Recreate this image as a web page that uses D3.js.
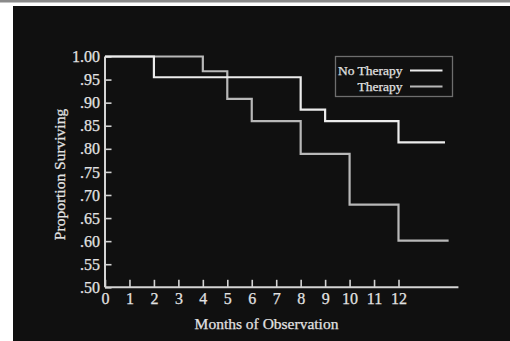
<!DOCTYPE html>
<html>
<head>
<meta charset="utf-8">
<script src="https://cdn.jsdelivr.net/npm/d3@7"></script>
<style>
  html, body { margin: 0; padding: 0; background: #fff; }
  svg { display: block; }
  text { stroke: #e2e2e2; stroke-width: 0.25px; }
</style>
</head>
<body>
<div id="chart"></div>
<script>
// survival steps: [month, proportion]
const noTherapy = [[0, 1.0], [2, 0.955], [8, 0.885], [9, 0.86], [12, 0.814], [13.9, 0.814]];
const therapy = [[0, 1.0], [4, 0.968], [5, 0.908], [6, 0.86], [8, 0.789], [10, 0.679], [12, 0.601], [14.05, 0.601]];
const monthTicks = [0, 1, 2, 3, 4, 5, 6, 7, 8, 9, 10, 11, 12];
const propTicks = [0.5, 0.55, 0.6, 0.65, 0.7, 0.75, 0.8, 0.85, 0.9, 0.95, 1.0];
const legendItems = ['No Therapy', 'Therapy'];

const width = 510, height = 341;
const FONT = '"Liberation Serif", "DejaVu Serif", serif';

const svg = d3.select('#chart').append('svg')
  .attr('width', width)
  .attr('height', height);

// photo frame: gray rule on top, white margin, black plate
svg.append('rect').attr('width', width).attr('height', height).attr('fill', '#fff');
svg.append('rect').attr('x', 0).attr('y', 0).attr('width', width).attr('height', 2.5).attr('fill', '#8a8a8a');
svg.append('rect').attr('x', 13).attr('y', 6).attr('width', width - 13).attr('height', height - 6).attr('fill', '#101010');

const x = d3.scaleLinear().domain([0, 12]).range([105, 398.5]);
const y = d3.scaleLinear().domain([0.5, 1.0]).range([287.3, 56.5]);

const axisColor = '#d4d4d4';
const textColor = '#e2e2e2';

// x axis (ticks point inward / up)
const xAxis = svg.append('g')
  .attr('transform', `translate(0,${y(0.5)})`)
  .call(d3.axisBottom(x).tickValues(monthTicks).tickSize(-7.5).tickPadding(14).tickFormat(d3.format('d')));
xAxis.select('.domain').remove();
xAxis.append('line')
  .attr('x1', x(0)).attr('x2', x(14.45))
  .attr('stroke', axisColor).attr('stroke-width', 2);
xAxis.selectAll('.tick line').attr('stroke', axisColor).attr('stroke-width', 1.6);
xAxis.selectAll('.tick text')
  .attr('fill', textColor).attr('font-family', FONT).attr('font-size', '16px')
  .attr('dy', '0.2em');

// y axis (ticks point inward / right)
const yAxis = svg.append('g')
  .attr('transform', `translate(${x(0)},0)`)
  .call(d3.axisLeft(y).tickValues(propTicks).tickSize(-6.5).tickPadding(12)
    .tickFormat(d => d === 1 ? '1.00' : d3.format('.2f')(d).replace(/^0/, '')));
yAxis.select('.domain').remove();
yAxis.append('line')
  .attr('y1', y(0.5)).attr('y2', y(1.0))
  .attr('stroke', axisColor).attr('stroke-width', 2);
yAxis.selectAll('.tick line').attr('stroke', axisColor).attr('stroke-width', 1.6);
yAxis.selectAll('.tick text')
  .attr('fill', textColor).attr('font-family', FONT).attr('font-size', '16px')
  .attr('x', -5);

// axis titles
svg.append('text')
  .attr('x', 266.5).attr('y', 329)
  .attr('text-anchor', 'middle')
  .attr('fill', textColor).attr('font-family', FONT).attr('font-size', '15.5px')
  .text('Months of Observation');

svg.append('text')
  .attr('transform', `translate(65,174.5) rotate(-90)`)
  .attr('text-anchor', 'middle')
  .attr('fill', textColor).attr('font-family', FONT).attr('font-size', '15.5px')
  .text('Proportion Surviving');

// survival curves
const step = d3.line()
  .x(d => x(d[0]))
  .y(d => y(d[1]))
  .curve(d3.curveStepAfter);

svg.append('path')
  .datum(therapy)
  .attr('d', step)
  .attr('fill', 'none')
  .attr('stroke', '#b8b8b8')
  .attr('stroke-width', 2.2);

svg.append('path')
  .datum(noTherapy)
  .attr('d', step)
  .attr('fill', 'none')
  .attr('stroke', '#ececec')
  .attr('stroke-width', 2.2);

// legend
const legend = svg.append('g');
legend.append('rect')
  .attr('x', 335.5).attr('y', 56.5).attr('width', 117).attr('height', 40)
  .attr('fill', 'none').attr('stroke', '#6e6e6e').attr('stroke-width', 1.3);

const legendY = d3.scalePoint().domain(legendItems).range([70.5, 86.5]);
const legendColor = d3.scaleOrdinal().domain(legendItems).range(['#ececec', '#b8b8b8']);

legend.selectAll('line.key')
  .data(legendItems)
  .join('line')
  .attr('class', 'key')
  .attr('x1', 410).attr('x2', 442.5)
  .attr('y1', d => legendY(d)).attr('y2', d => legendY(d))
  .attr('stroke', d => legendColor(d))
  .attr('stroke-width', 2);

legend.selectAll('text.key')
  .data(legendItems)
  .join('text')
  .attr('class', 'key')
  .attr('x', 402.5)
  .attr('y', d => legendY(d) + 4.5)
  .attr('text-anchor', 'end')
  .attr('fill', textColor).attr('font-family', FONT).attr('font-size', '13.5px')
  .text(d => d);
</script>
</body>
</html>
